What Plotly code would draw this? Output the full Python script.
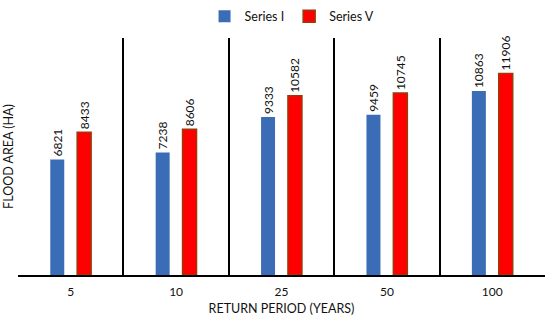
import plotly.graph_objects as go

categories = ["5", "10", "25", "50", "100"]
series_i = [6821, 7238, 9333, 9459, 10863]
series_v = [8433, 8606, 10582, 10745, 11906]

font = "Lato, Open Sans, Liberation Sans, sans-serif"

fig = go.Figure()
fig.add_trace(go.Bar(
    name="Series I", x=categories, y=series_i,
    marker=dict(color="#3A6DB5", line=dict(width=0)),
    text=series_i, textposition="outside", textangle=-90, constraintext="none",
    textfont=dict(size=12, color="#111111", family=font),
    cliponaxis=False,
))
fig.add_trace(go.Bar(
    name="Series V", x=categories, y=series_v,
    marker=dict(color="#FF0000", line=dict(color="#9A3A0A", width=1.5)),
    text=series_v, textposition="outside", textangle=-90, constraintext="none",
    textfont=dict(size=12, color="#111111", family=font),
    cliponaxis=False,
))

fig.update_layout(
    width=550, height=322,
    margin=dict(l=18, r=5, t=38, b=47, autoexpand=False),
    paper_bgcolor="white", plot_bgcolor="white",
    barmode="group", bargap=0.49, bargroupgap=0.48,
    font=dict(family=font, size=12, color="#111111"),
    showlegend=True,
    legend=dict(orientation="h", x=0.52, xanchor="center", y=0.995, yanchor="top",
                yref="container", font=dict(size=12.5), itemwidth=30,
                traceorder="normal", bgcolor="rgba(0,0,0,0)"),
    xaxis=dict(
        type="category", tickson="boundaries", showgrid=True, automargin=False,
        gridcolor="#000000", gridwidth=1.5, ticklen=0,
        showline=True, linecolor="#000000", linewidth=1.5,
        tickfont=dict(size=12), ticklabelstandoff=5,
        title=dict(text="RETURN PERIOD (YEARS)", font=dict(size=12.5), standoff=6),
    ),
    yaxis=dict(
        range=[0, 14000], showgrid=False, showticklabels=False, zeroline=False,
        showline=False, ticks="", automargin=False,
        title=dict(text="FLOOD AREA (HA)", font=dict(size=12.5), standoff=0),
    ),
)

fig.write_html("out.html", config={"displayModeBar": False},
               post_script="document.body.style.margin='0';document.body.style.padding='0';")
